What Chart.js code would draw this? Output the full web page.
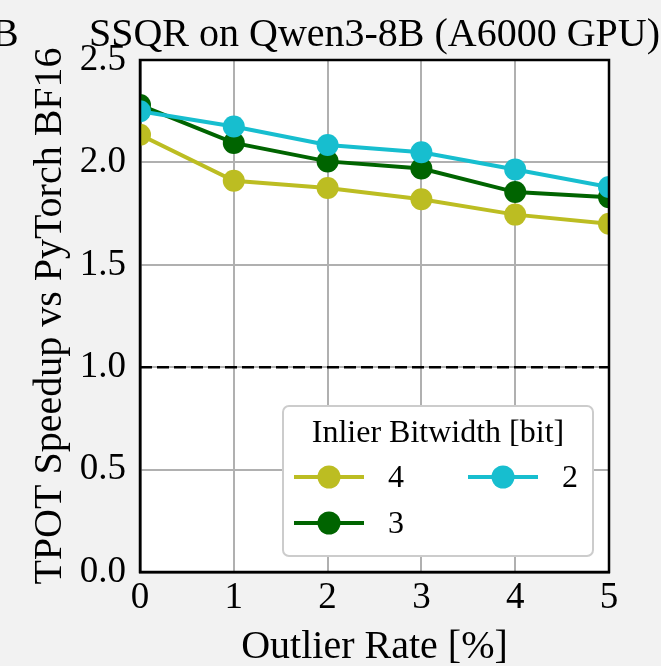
<!DOCTYPE html>
<html>
<head>
<meta charset="utf-8">
<script src="https://cdn.jsdelivr.net/npm/chart.js@4"></script>
<style>
  html, body { margin: 0; padding: 0; background: #f2f2f2; }
  #wrap { width: 661px; height: 666px; position: relative; }
</style>
</head>
<body>
<div id="wrap"><canvas id="chart"></canvas></div>
<script>
// data
const outlierRates = [0, 1, 2, 3, 4, 5];
const speedup4bit = [2.135, 1.91, 1.875, 1.82, 1.745, 1.70];
const speedup3bit = [2.28, 2.095, 2.005, 1.97, 1.855, 1.83];
const speedup2bit = [2.25, 2.175, 2.085, 2.05, 1.965, 1.88];
const baselineSpeedup = 1.0;

const FONT = "'Liberation Serif', 'Times New Roman', serif";
const colors = { "4": "#bcbd22", "3": "#006400", "2": "#17becf" };
const series = { "4": speedup4bit, "3": speedup3bit, "2": speedup2bit };

const toPoints = ys => outlierRates.map((x, i) => ({ x: x, y: ys[i] }));

// white plot background
const plotBg = {
  id: "plotBg",
  beforeDraw(chart) {
    const { ctx, chartArea: a } = chart;
    ctx.save();
    ctx.fillStyle = "#ffffff";
    ctx.fillRect(a.left, a.top, a.right - a.left, a.bottom - a.top);
    ctx.restore();
  }
};

// black frame on all four sides above the lines, plus the title
const frame = {
  id: "frame",
  afterDatasetsDraw(chart) {
    const { ctx, chartArea: a } = chart;
    ctx.save();
    ctx.strokeStyle = "#000";
    ctx.lineWidth = 2.5;
    ctx.strokeRect(a.left, a.top, a.right - a.left, a.bottom - a.top);

    ctx.fillStyle = "#000";
    ctx.font = "40px " + FONT;
    ctx.textBaseline = "alphabetic";
    ctx.textAlign = "center";
    ctx.fillText("SSQR on Qwen3-8B (A6000 GPU)", (a.left + a.right) / 2, 46);
    // cropped letter left over from the neighbouring panel's title
    ctx.textAlign = "left";
    ctx.fillText("B", -8, 46);
    ctx.restore();
  }
};

// matplotlib style legend: two columns, title on top
const bitLegend = {
  id: "bitLegend",
  afterDraw(chart) {
    const { ctx, chartArea: a } = chart;
    const w = 310, h = 150;
    const x0 = a.right - 16 - w, y0 = a.bottom - 16 - h;
    ctx.save();
    ctx.beginPath();
    ctx.roundRect(x0, y0, w, h, 6);
    ctx.fillStyle = "#ffffff";
    ctx.fill();
    ctx.strokeStyle = "#cccccc";
    ctx.lineWidth = 2;
    ctx.stroke();

    ctx.fillStyle = "#000";
    ctx.font = "32px " + FONT;
    ctx.textAlign = "center";
    ctx.textBaseline = "middle";
    ctx.fillText("Inlier Bitwidth [bit]", x0 + w / 2, y0 + 28);

    const slots = [
      { key: "4", col: 0, row: 0 },
      { key: "2", col: 1, row: 0 },
      { key: "3", col: 0, row: 1 }
    ];
    slots.forEach(s => {
      const lx = x0 + 11 + s.col * 174;
      const ly = y0 + 71 + s.row * 46;
      ctx.strokeStyle = colors[s.key];
      ctx.lineWidth = 4;
      ctx.beginPath();
      ctx.moveTo(lx, ly);
      ctx.lineTo(lx + 70, ly);
      ctx.stroke();
      ctx.fillStyle = colors[s.key];
      ctx.beginPath();
      ctx.arc(lx + 35, ly, 11.5, 0, Math.PI * 2);
      ctx.fill();
      ctx.fillStyle = "#000";
      ctx.textAlign = "left";
      ctx.fillText(s.key, lx + 94, ly + 2);
    });
    ctx.restore();
  }
};

const datasets = ["2", "3", "4"].map(b => ({
  label: b,
  data: toPoints(series[b]),
  borderColor: colors[b],
  backgroundColor: colors[b],
  borderWidth: 4,
  pointRadius: 11,
  pointHoverRadius: 11,
  pointBorderWidth: 0,
  clip: 0
}));

datasets.push({
  label: "PyTorch BF16",
  data: [
    { x: outlierRates[0], y: baselineSpeedup },
    { x: outlierRates[outlierRates.length - 1], y: baselineSpeedup }
  ],
  borderColor: "#000",
  borderWidth: 2.6,
  borderDash: [12, 5],
  pointRadius: 0,
  clip: 0
});

new Chart(document.getElementById("chart"), {
  type: "line",
  data: { datasets: datasets },
  plugins: [plotBg, frame, bitLegend],
  options: {
    responsive: true,
    maintainAspectRatio: false,
    animation: false,
    layout: { padding: { left: 0, right: 52, top: 60, bottom: 0 } },
    plugins: {
      legend: { display: false },
      tooltip: { enabled: false },
      title: { display: false }
    },
    scales: {
      x: {
        type: "linear",
        min: 0,
        max: 5,
        afterFit: s => { s.height = 94; },
        ticks: {
          stepSize: 1,
          color: "#000",
          padding: 4,
          font: { family: FONT, size: 37 }
        },
        grid: { color: "#b0b0b0", lineWidth: 2, drawTicks: false },
        border: { color: "#000", width: 2.5 },
        title: {
          display: true,
          text: "Outlier Rate [%]",
          color: "#000",
          font: { family: FONT, size: 40, lineHeight: 0.95 },
          padding: { top: 0, bottom: 0 }
        }
      },
      y: {
        min: 0,
        max: 2.5,
        afterFit: s => { s.width = 140; },
        ticks: {
          stepSize: 0.5,
          color: "#000",
          padding: 14,
          font: { family: FONT, size: 37 },
          callback: v => v.toFixed(1)
        },
        grid: { color: "#b0b0b0", lineWidth: 2, drawTicks: false },
        border: { color: "#000", width: 2.5 },
        title: {
          display: true,
          text: "TPOT Speedup vs PyTorch BF16",
          color: "#000",
          font: { family: FONT, size: 40 },
          padding: { top: 26, bottom: 0 }
        }
      }
    }
  }
});
</script>
</body>
</html>
